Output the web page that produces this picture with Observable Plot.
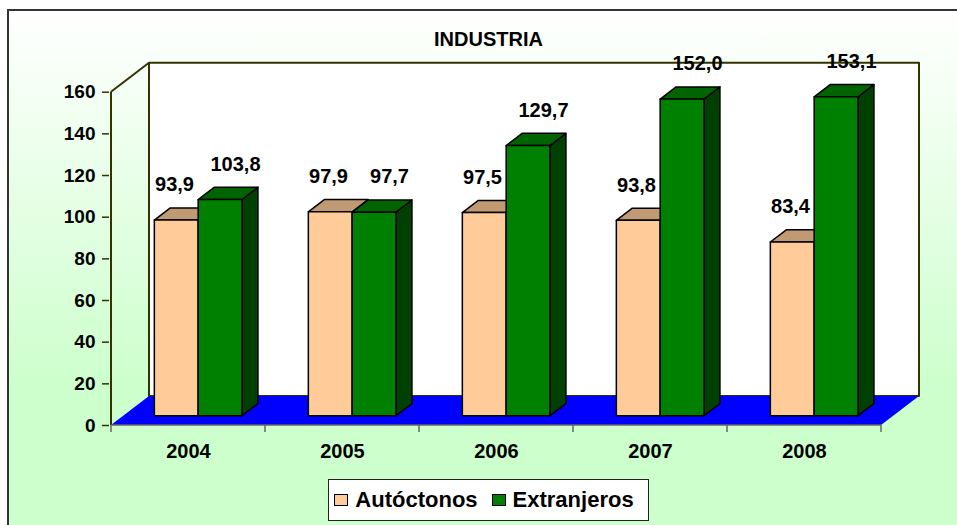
<!DOCTYPE html>
<html>
<head>
<meta charset="utf-8">
<script src="https://cdn.jsdelivr.net/npm/d3@7"></script>
<script src="https://cdn.jsdelivr.net/npm/@observablehq/plot@0.6"></script>
<style>
  body { margin: 0; width: 957px; height: 525px; overflow: hidden; position: relative; background: #fff;
         font-family: "Liberation Sans", Arial, sans-serif; }
  #frame { position: absolute; left: 7px; top: 9px; width: 1000px; height: 600px;
           border-left: 2px solid #333; border-top: 2px solid #333;
           background: linear-gradient(to bottom, #ffffff 0%, #ccffcc 63%, #ccffcc 100%); }
  #chart { position: absolute; left: 0; top: 0; width: 957px; }
  #title { box-sizing: border-box; height: 50px; padding-top: 29px; padding-left: 20px; text-align: center;
           font-weight: bold; font-size: 20px; line-height: 20px; color: #000; }
  #legendRow { display: flex; justify-content: center; padding-left: 20px; margin-top: 9px; }
  #legend { display: flex; align-items: center; box-sizing: border-box; height: 42px; border: 1px solid #222;
            background: #fff; padding: 0 14px 0 5px; font-weight: bold; font-size: 22px; line-height: 22px; color: #000; }
  .sw { width: 12px; height: 10px; border: 1.5px solid #000; margin-right: 7px; }
  .item { display: flex; align-items: center; }
  .item + .item { margin-left: 14px; }
</style>
</head>
<body>
<div id="frame"></div>
<div id="chart">
  <div id="title">INDUSTRIA</div>
  <div id="plot"></div>
  <div id="legendRow"><div id="legend"></div></div>
</div>
<script>
// ---- data ----
const years = ["2004", "2005", "2006", "2007", "2008"];
const autoctonos = [93.9, 97.9, 97.5, 93.8, 83.4];
const extranjeros = [103.8, 97.7, 129.7, 152.0, 153.1];
const yTicks = [0, 20, 40, 60, 80, 100, 120, 140, 160];
const seriesNames = ["Autóctonos", "Extranjeros"];

// ---- styles ----
const frontColors = ["#ffcc99", "#008000"];
const topColors = ["#c09a73", "#006400"];
const sideColors = ["#80664d", "#004000"];
const WALL = "#333300";
const DX = 38, DY = -29;          // depth of the floor / walls
const zFront = 0.32, zBack = 0.74; // bar depth inside the floor
const barOffset = [0.2025, 0.487], barWidth = 0.2846;

const seriesValues = [autoctonos, extranjeros];
const rows = years.flatMap((year, i) => seriesNames.map((series, s) => ({year, series, s, value: seriesValues[s][i]})));
const fmt = v => v.toFixed(1).replace(".", ",");

function scene(index, scales) {
  const x = scales.x, y = scales.y;
  const step = x(years[1]) - x(years[0]);
  const x0 = x(years[0]), x1 = x0 + step * years.length;
  const yb = y(0), yt = y(yTicks[yTicks.length - 1]);
  const g = d3.create("svg:g");
  const poly = (pts, fill, stroke, sw) => g.append("polygon")
    .attr("points", pts.map(p => p.join(",")).join(" "))
    .attr("fill", fill).attr("stroke", stroke || "none").attr("stroke-width", sw || 0)
    .attr("stroke-linejoin", "round");
  const line = (xa, ya, xb, yb2, stroke, sw) => g.append("line")
    .attr("x1", xa).attr("y1", ya).attr("x2", xb).attr("y2", yb2)
    .attr("stroke", stroke).attr("stroke-width", sw);

  // back wall
  poly([[x0 + DX, yt + DY], [x1 + DX, yt + DY], [x1 + DX, yb + DY], [x0 + DX, yb + DY]], "#fff", WALL, 2);
  line(x0, yt, x0 + DX, yt + DY, WALL, 2);
  // floor
  poly([[x0, yb], [x1, yb], [x1 + DX, yb + DY], [x0 + DX, yb + DY]], "#0000ff");
  // axes lines
  line(x0, yt, x0, yb, WALL, 2);
  line(x0, yb, x1, yb, "#666", 1.5);
  for (let i = 0; i <= years.length; i++) line(x0 + i * step, yb, x0 + i * step, yb + 7, "#666", 1.5);

  // bars
  const fdx = zFront * DX, fdy = zFront * DY;
  const ddx = (zBack - zFront) * DX, ddy = (zBack - zFront) * DY;
  years.forEach((yr, i) => {
    seriesValues.forEach((vals, s) => {
      const xl = x(yr) + barOffset[s] * step + fdx;
      const xr = xl + barWidth * step;
      const yT = y(vals[i]) + fdy, yB = yb + fdy;
      poly([[xr, yT], [xr + ddx, yT + ddy], [xr + ddx, yB + ddy], [xr, yB]], sideColors[s], "#000", 1.5);
      poly([[xl, yT], [xr, yT], [xr + ddx, yT + ddy], [xl + ddx, yT + ddy]], topColors[s], "#000", 1.5);
      poly([[xl, yT], [xr, yT], [xr, yB], [xl, yB]], frontColors[s], "#000", 1.5);
    });
  });
  return g.node();
}

const chart = Plot.plot({
  width: 957,
  height: 420,
  marginLeft: 109,
  marginRight: 75,
  marginTop: 41.7,
  marginBottom: 45,
  x: {type: "band", domain: years, padding: 0},
  y: {domain: [0, 160]},
  style: {background: "transparent", overflow: "visible", fontFamily: "'Liberation Sans', Arial, sans-serif",
          fontWeight: "bold", fontSize: "20px", color: "#000"},
  marks: [
    scene,
    Plot.axisY({ticks: yTicks, tickSize: 7, tickPadding: 7, stroke: WALL, strokeWidth: 1.5, fontSize: 19, label: null}),
    Plot.axisX({tickSize: 0, tickPadding: 18, fontSize: 20, label: null}),
    Plot.text(rows.filter(d => d.s === 0), {x: "year", y: "value", text: d => fmt(d.value), dx: -14, dy: -45,
      fontSize: 20, fontWeight: "bold", fill: "#000"}),
    Plot.text(rows.filter(d => d.s === 1), {x: "year", y: "value", text: d => fmt(d.value), dx: 47, dy: -45,
      fontSize: 20, fontWeight: "bold", fill: "#000"})
  ]
});
document.getElementById("plot").appendChild(chart);

const legend = document.getElementById("legend");
seriesNames.forEach((name, s) => {
  const item = document.createElement("div");
  item.className = "item";
  const sw = document.createElement("div");
  sw.className = "sw";
  sw.style.background = frontColors[s];
  const t = document.createElement("span");
  t.textContent = name;
  item.appendChild(sw); item.appendChild(t);
  legend.appendChild(item);
});
</script>
</body>
</html>
